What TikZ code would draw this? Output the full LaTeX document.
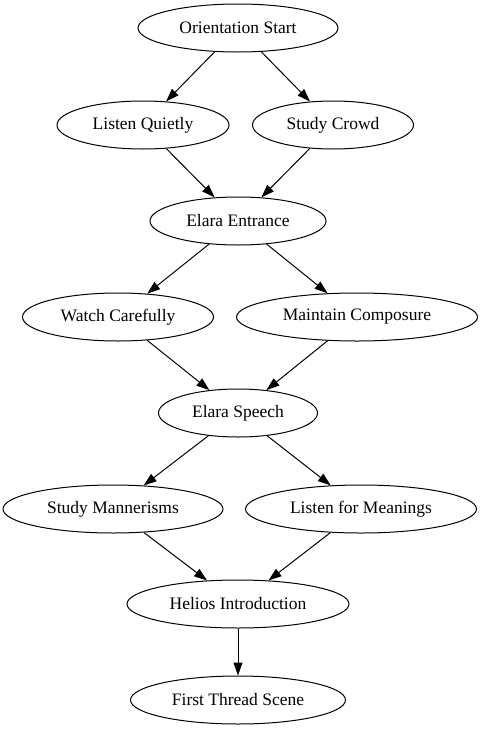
\documentclass[tikz,border=0pt]{standalone}
\usepackage{fontspec}
\setmainfont{Liberation Serif}
\usetikzlibrary{shapes.geometric, arrows.meta}
\tikzstyle{scene}=[ellipse, draw, line width=1pt, inner sep=0pt, minimum height=48pt, font=\fontsize{17.5}{20}\selectfont]
\tikzstyle{flow}=[-{Triangle[length=13pt,width=9pt]}, line width=1pt]

\begin{document}
\begin{tikzpicture}[x=1pt, y=-1pt]
		\useasboundingbox (0,0) rectangle (484,731);
		% Draw the scene nodes
		\foreach \name / \x / \y / \w / \txt in {
			OS/238/28/200/Orientation Start,
			LQ/143/125/172/Listen Quietly,
			SC/333/125/161/Study Crowd,
			EE/238/221/176/Elara Entrance,
			WC/118/317/191/Watch Carefully,
			MC/357/317/241/Maintain Composure,
			ES/238/413/159/Elara Speech,
			SM/113/509/220/Study Mannerisms,
			LM/361/509/231/Listen for Meanings,
			HI/238/604/222/Helios Introduction,
			FT/238/700/215/First Thread Scene}
		\node[scene, minimum width=\w pt] (\name) at (\x, \y) {\txt};

		% Connect the scenes
		\foreach \source / \dest in {OS/LQ, OS/SC, LQ/EE, SC/EE, EE/WC, EE/MC,
			WC/ES, MC/ES, ES/SM, ES/LM, SM/HI, LM/HI, HI/FT}
		\draw[flow] (\source) -- (\dest);
	\end{tikzpicture}
\end{document}
